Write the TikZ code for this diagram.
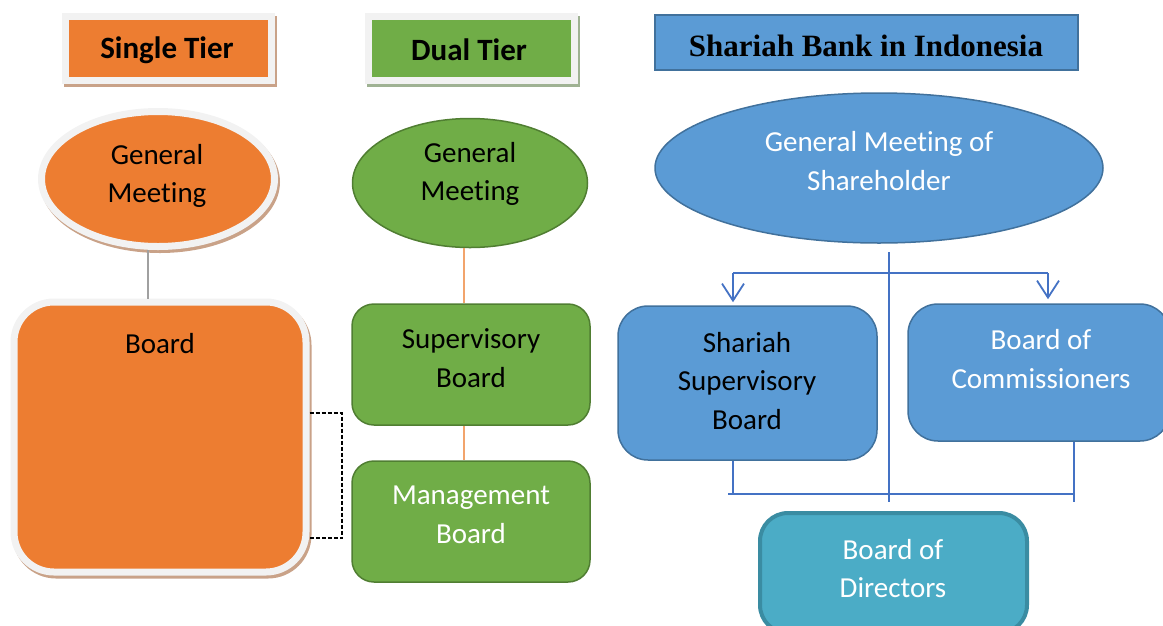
\documentclass[tikz,border=0pt]{standalone}
\usepackage{fontspec}
\setmainfont{Carlito}[Ligatures=NoCommon]
\newfontfamily\headserif{Liberation Serif}
\usetikzlibrary{shapes.geometric, arrows.meta}

\definecolor{orangeF}{HTML}{ED7D31}
\definecolor{greenF}{HTML}{70AD47}
\definecolor{greenD}{HTML}{507E32}
\definecolor{blueF}{HTML}{5B9BD5}
\definecolor{blueD}{HTML}{41719C}
\definecolor{tealF}{HTML}{4BACC6}
\definecolor{tealD}{HTML}{3A8CA2}
\definecolor{lineBlue}{HTML}{4472C4}
\definecolor{plateGray}{HTML}{F2F2F2}
\definecolor{plateEdge}{HTML}{E2E2E2}
\definecolor{shOr}{HTML}{C9A288}
\definecolor{shGr}{HTML}{9FB293}
\definecolor{linkOr}{HTML}{F2A46C}
\definecolor{linkGray}{HTML}{A0A0A0}

\tikzset{
  txt/.style={font=\fontsize{29}{38.5}\selectfont, align=center, inner sep=0pt},
  hdtxt/.style={font=\bfseries\fontsize{31}{36}\selectfont, inner sep=0pt},
  plate/.style={draw=plateGray, line width=7pt, inner sep=0pt,
    preaction={draw=#1, fill=#1, transform canvas={xshift=2pt, yshift=-3pt}}},
  gbox/.style={draw=greenD, line width=1.5pt, fill=greenF, rounded corners=22pt,
    inner sep=0pt, minimum width=238, minimum height=121},
  bbox/.style={draw=blueD, line width=1.5pt, fill=blueF, rounded corners=30pt,
    inner sep=0pt},
  bline/.style={draw=lineBlue, line width=1.5pt},
  barb/.style={bline, -{Straight Barb[length=17pt, width=22pt, line width=1.8pt]}},
}

\begin{document}
\begin{tikzpicture}[x=1pt, y=-1pt]
\useasboundingbox (0,0) rectangle (1163,625);
\clip (0,0) rectangle (1163,625);

% ---- Single tier column ----
\node[plate=shOr, fill=orangeF, minimum width=206, minimum height=64]
  (hS) at (168,48.5) {};
\node[hdtxt] (hSt) at (167,50.5) {Single Tier};
\node[plate=shOr, ellipse, fill=orangeF, minimum width=233, minimum height=135]
  (gmS) at (158,179) {};
\node[txt] (gmSt) at (157,176) {General\\Meeting};
\node[plate=shOr, rounded corners=40pt, fill=orangeF, minimum width=292, minimum height=270]
  (bS) at (160,437) {};
\node[txt] (bSt) at (160,344) {Board};

\coordinate (axS) at (148,0);
\draw[linkGray, line width=1.8pt] (gmS.south -| axS) -- (bS.north -| axS);

% dashed bracket tying the board to both dual-tier boards
\coordinate (dT) at (342,413);
\coordinate (dB) at (342,538);
\draw[black, line width=2.6pt, dash pattern=on 4pt off 2pt]
  (dT -| bS.east) -- (dT) -- (dB) -- (dB -| bS.east);

% ---- Dual tier column ----
\node[plate=shGr, fill=greenF, minimum width=206, minimum height=64]
  (hD) at (471,48.5) {};
\node[hdtxt] (hDt) at (469,50) {Dual Tier};
\node[ellipse, draw=greenD, line width=1.5pt, fill=greenF, inner sep=0pt,
  minimum width=235, minimum height=129] (gmD) at (470,183) {};
\node[txt] (gmDt) at (470,174) {General\\Meeting};
\node[gbox] (supB) at (471,364.5) {};
\node[txt] (supBt) at (471,358) {Supervisory\\Board};
\node[gbox] (mgB) at (471,521.5) {};
\node[txt, text=white] (mgBt) at (471,515) {Management\\Board};

\coordinate (axD) at (464,0);
\draw[linkOr, line width=1.5pt] (gmD.south -| axD) -- (supB.north -| axD);
\draw[linkOr, line width=1.5pt] (supB.south -| axD) -- (mgB.north -| axD);

% ---- Shariah bank column ----
\node[draw=blueD, line width=2pt, fill=blueF, minimum width=423, minimum height=55,
  inner sep=0pt] (hB) at (866.5,42.5) {};
\node[inner sep=0pt, font=\headserif\bfseries\fontsize{31}{36}\selectfont]
  (hBt) at (866,46) {Shariah Bank in Indonesia};
\node[ellipse, draw=blueD, line width=1.5pt, fill=blueF, inner sep=0pt,
  minimum width=448, minimum height=150] (gmB) at (879,168) {};
\node[txt, text=white] (gmBt) at (879,161) {General Meeting of\\Shareholder};

\node[bbox, minimum width=259, minimum height=154] (ssB) at (747.5,383) {};
\node[txt] (ssBt) at (747,381) {Shariah\\Supervisory\\Board};
\node[bbox, minimum width=262, minimum height=137] (bcB) at (1039,372.5) {};
\node[txt, text=white] (bcBt) at (1041,359) {Board of\\Commissioners};
\node[draw=tealD, line width=4pt, fill=tealF, rounded corners=28pt, inner sep=0pt,
  minimum width=267, minimum height=120] (bdB) at (893.5,573) {};
\node[txt, text=white] (bdBt) at (893,568.5) {Board of\\Directors};

% connectors
\coordinate (vTop) at (889,252);
\coordinate (vBot) at (889,502);
\coordinate (hL) at (733,273);
\coordinate (hR) at (1048,273);
\coordinate (jL) at (728,494);
\coordinate (jR) at (1074,494);
\coordinate (jRb) at (1074,502);
\coordinate (lx) at (733,494);

\draw[bline] (vTop) -- (vBot);
\draw[bline] (hL) -- (hR);
\draw[barb] (hL) -- ([yshift=3pt]ssB.north -| hL);
\draw[barb] (hR) -- ([yshift=4pt]bcB.north -| hR);
\draw[bline] (ssB.south -| lx) -- (lx);
\draw[bline] (jL) -- (jR);
\draw[bline] (bcB.south -| jR) -- (jRb);
\end{tikzpicture}
\end{document}
